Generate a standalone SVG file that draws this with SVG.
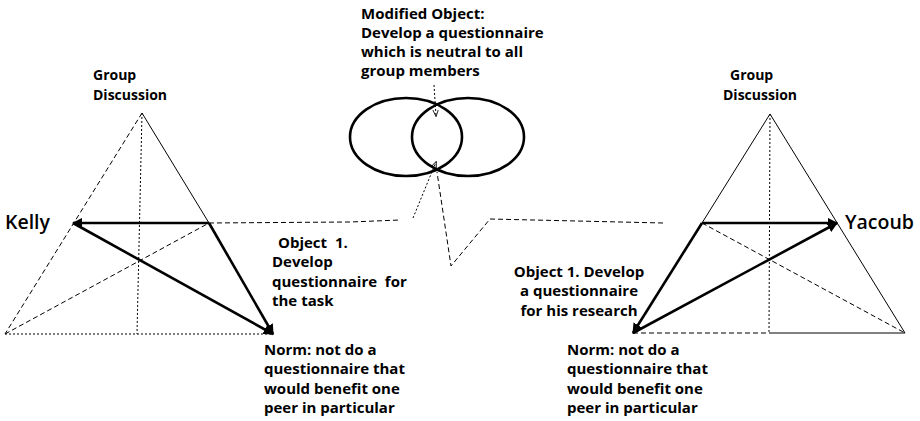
<svg xmlns="http://www.w3.org/2000/svg" width="920" height="421" viewBox="0 0 920 421">
<style>
text{font-family:"Open Sans","Liberation Sans",sans-serif;font-weight:bold;fill:#000;font-size:15px}
.gd{font-size:14px}
.big{font-size:19.5px;font-weight:600}
.thin{stroke:#000;stroke-width:1;fill:none}
.thick{stroke:#000;stroke-width:2.6;fill:none}
.dot{stroke:#000;stroke-width:1;fill:none;stroke-dasharray:2 2}
.dash{stroke:#000;stroke-width:1;fill:none;stroke-dasharray:5 3}
.ell{stroke:#000;stroke-width:2.6;fill:none}
</style>
<defs>
<marker id="ah" viewBox="0 0 10 10" refX="9" refY="5" markerWidth="4" markerHeight="4" orient="auto-start-reverse"><path d="M0,0 L10,5 L0,10 z" fill="#000"/></marker>
<marker id="as" viewBox="0 0 10 10" refX="9" refY="5" markerWidth="7" markerHeight="7" orient="auto" markerUnits="userSpaceOnUse"><path d="M0,1 L10,5 L0,9" fill="none" stroke="#000" stroke-width="1.2"/></marker>
</defs>
<rect width="920" height="421" fill="#fff"/>

<g id="left-triangle">
<line class="dash" x1="142" y1="113" x2="5" y2="334"/>
<line class="thin" x1="142" y1="113" x2="209" y2="223"/>
<line class="thick" x1="209" y1="223" x2="273" y2="334" marker-end="url(#ah)"/>
<line class="dot" x1="5" y1="334" x2="273" y2="334"/>
<line class="dot" x1="142" y1="113" x2="137" y2="334"/>
<line class="dash" x1="5" y1="334" x2="209" y2="223"/>
<line class="thick" x1="209" y1="223" x2="73" y2="223" marker-end="url(#ah)"/>
<line class="thick" x1="73" y1="223" x2="273" y2="334" marker-end="url(#ah)"/>
</g>
<g id="left-labels">
<text class="gd" x="93" y="80">Group</text>
<text class="gd" x="93" y="100">Discussion</text>
<text class="big" x="5" y="229">Kelly</text>
<text x="278" y="248" xml:space="preserve">Object  1.</text>
<text x="272" y="267">Develop</text>
<text x="272" y="287" xml:space="preserve">questionnaire  for</text>
<text x="272" y="306">the task</text>
<text x="264" y="355">Norm: not do a</text>
<text x="264" y="374">questionnaire that</text>
<text x="264" y="394">would benefit one</text>
<text x="264" y="413">peer in particular</text>
</g>

<g id="right-triangle">
<line class="thin" x1="770" y1="114" x2="702" y2="223"/>
<line class="thick" x1="702" y1="223" x2="633" y2="333" marker-end="url(#ah)"/>
<line class="thin" x1="770" y1="114" x2="905" y2="333"/>
<line class="dash" x1="633" y1="333" x2="769" y2="333"/>
<line class="thin" x1="769" y1="333" x2="905" y2="333"/>
<line class="dot" x1="770" y1="114" x2="769" y2="333"/>
<line class="dash" x1="702" y1="223" x2="905" y2="333"/>
<line class="thick" x1="702" y1="223" x2="837" y2="223" marker-end="url(#ah)"/>
<line class="thick" x1="633" y1="333" x2="837" y2="223" marker-end="url(#ah)"/>
</g>
<g id="right-labels">
<text class="gd" x="730" y="80">Group</text>
<text class="gd" x="723" y="100">Discussion</text>
<text class="big" x="845" y="229">Yacoub</text>
<text x="579" y="277" text-anchor="middle">Object 1. Develop</text>
<text x="579" y="296" text-anchor="middle">a questionnaire</text>
<text x="579" y="316" text-anchor="middle">for his research</text>
<text x="567" y="355">Norm: not do a</text>
<text x="567" y="374">questionnaire that</text>
<text x="567" y="394">would benefit one</text>
<text x="567" y="413">peer in particular</text>
</g>

<g id="modified-object">
<ellipse class="ell" cx="406" cy="137" rx="56" ry="39"/>
<ellipse class="ell" cx="468" cy="137" rx="56" ry="39"/>
<text x="361" y="19">Modified Object:</text>
<text x="361" y="38">Develop a questionnaire</text>
<text x="361" y="57">which is neutral to all</text>
<text x="361" y="76">group members</text>
</g>

<g id="connectors">
<line class="dot" x1="434" y1="85" x2="436" y2="116" marker-end="url(#as)"/>
<polyline class="dash" points="209,223 350,222 400,220"/>
<line class="dot" x1="413" y1="218" x2="436" y2="162" marker-end="url(#as)"/>
<polyline class="dash" points="663,223 490,219 451,266 437,172"/>
</g>
</svg>
